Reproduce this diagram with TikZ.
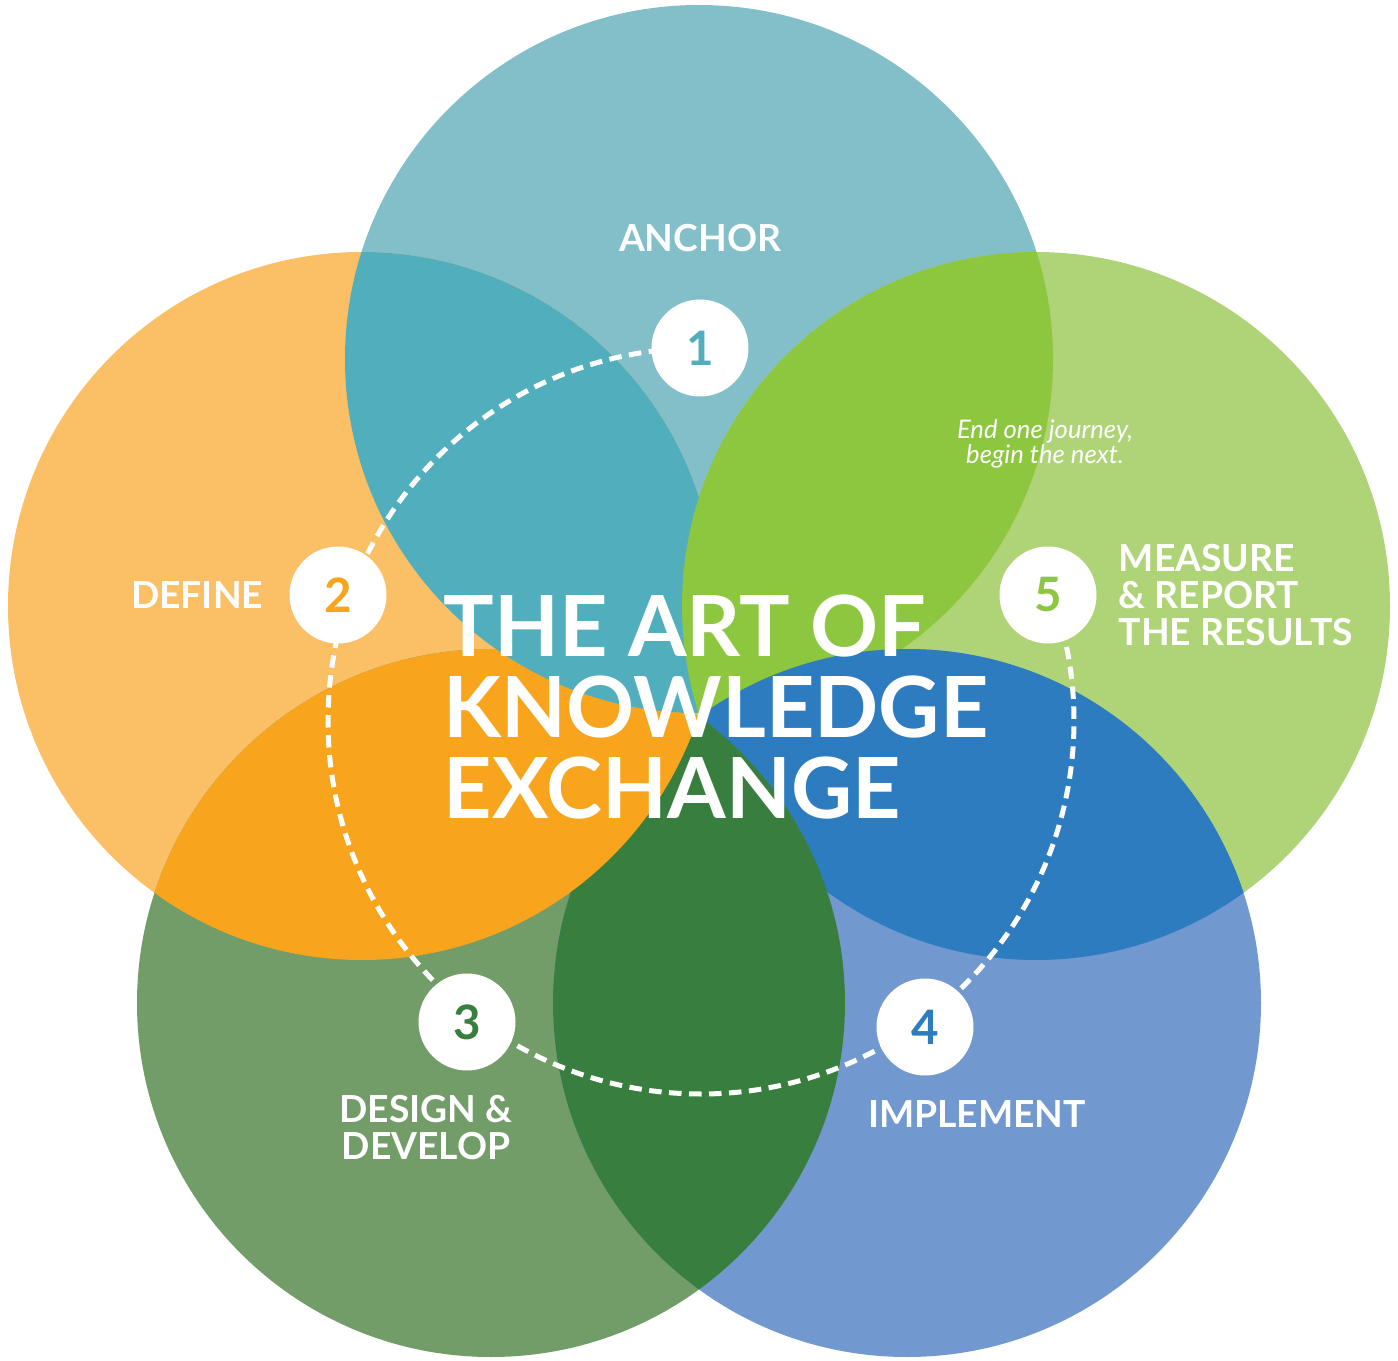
\documentclass[tikz,border=0pt]{standalone}
\usepackage{fontspec}
\setmainfont{Lato}
\definecolor{ANCHORlight}{HTML}{82BFC9}
\definecolor{ANCHORdeep}{HTML}{51AFBD}
\definecolor{DEFINElight}{HTML}{FBBF66}
\definecolor{DEFINEdeep}{HTML}{F8A51D}
\definecolor{DESIGNlight}{HTML}{729D68}
\definecolor{DESIGNdeep}{HTML}{387F3F}
\definecolor{IMPLEMENTlight}{HTML}{7299CF}
\definecolor{IMPLEMENTdeep}{HTML}{2E7CC0}
\definecolor{MEASURElight}{HTML}{AFD478}
\definecolor{MEASUREdeep}{HTML}{8DC63F}
\usetikzlibrary{positioning}
\tikzset{
	numcircle/.style={
		circle,
		fill=white,
		minimum size=9.7mm,
		inner sep=0pt,
		font=\bfseries\fontsize{13.5}{13.5}\selectfont},
	steplabel/.style={
		text=white,
		inner sep=0pt,
		font=\bfseries\fontsize{10.6}{10.5}\selectfont},
	bigtitle/.style={
		text=white,
		inner sep=0pt,
		align=left,
		font=\bfseries\fontsize{24}{23}\selectfont},
	journey/.style={
		draw=white,
		line width=0.5mm,
		dash pattern=on 1.25mm off 0.75mm},
}
\newcommand*\lens[3]{\begin{scope}
		\clip (#1) circle (354);
		\fill[#3] (#2) circle (354);
	\end{scope}}

\begin{document}
\begin{tikzpicture}
[x=0.1mm, y=0.1mm, node distance=2.4mm]
\useasboundingbox (0,0) rectangle (1398,1360);
\coordinate (ctop) at (699,1001);
\coordinate (cleft) at (362,754);
\coordinate (cright) at (1036,754);
\coordinate (cbl) at (491,357);
\coordinate (cbr) at (907,357);
\coordinate (cring) at (701,639);
\fill[ANCHORlight] (ctop) circle (354);
\fill[DEFINElight] (cleft) circle (354);
\fill[MEASURElight] (cright) circle (354);
\fill[DESIGNlight] (cbl) circle (354);
\fill[IMPLEMENTlight] (cbr) circle (354);
\lens{cleft}{cbl}{DEFINEdeep}
\lens{ctop}{cleft}{ANCHORdeep}
\lens{ctop}{cright}{MEASUREdeep}
\lens{cright}{cbr}{IMPLEMENTdeep}
\lens{cbl}{cbr}{DESIGNdeep}
% orange lies over dark green
\begin{scope}
	\clip (cbr) circle (357);
	\lens{cleft}{cbl}{DEFINEdeep}
\end{scope}
\draw[journey] (cring) ++(90:373) arc[start angle=90, end angle=376, radius=373];
\node[numcircle, text=ANCHORdeep] (n1) at (700,1012) {1};
\node[numcircle, text=DEFINEdeep] (n2) at (338,765) {2};
\node[numcircle, text=DESIGNdeep] (n3) at (467,338) {3};
\node[numcircle, text=IMPLEMENTdeep] (n4) at (925,333) {4};
\node[numcircle, text=MEASUREdeep] (n5) at (1048,765) {5};
\node[steplabel, above=4.6mm of n1] (anchor) {ANCHOR};
\node[steplabel, left=2.5mm of n2] (define) {DEFINE};
\node[steplabel, below=2.3mm of n3, xshift=-4.1mm, align=center] (design) {DESIGN \&\\DEVELOP};
\node[steplabel, below=2.4mm of n4, xshift=5.2mm] (implement) {IMPLEMENT};
\node[steplabel, right=2.1mm of n5, align=left] (measure) {MEASURE\\\& REPORT\\THE RESULTS};
\node[bigtitle] (title) at (716,653) {THE ART OF\\KNOWLEDGE\\EXCHANGE};
\node[text=white, inner sep=0pt, align=center, font=\itshape\fontsize{7.3}{6.9}\selectfont] (next) at (1045,916) {End one journey,\\begin the next.};
\end{tikzpicture}
\end{document}
